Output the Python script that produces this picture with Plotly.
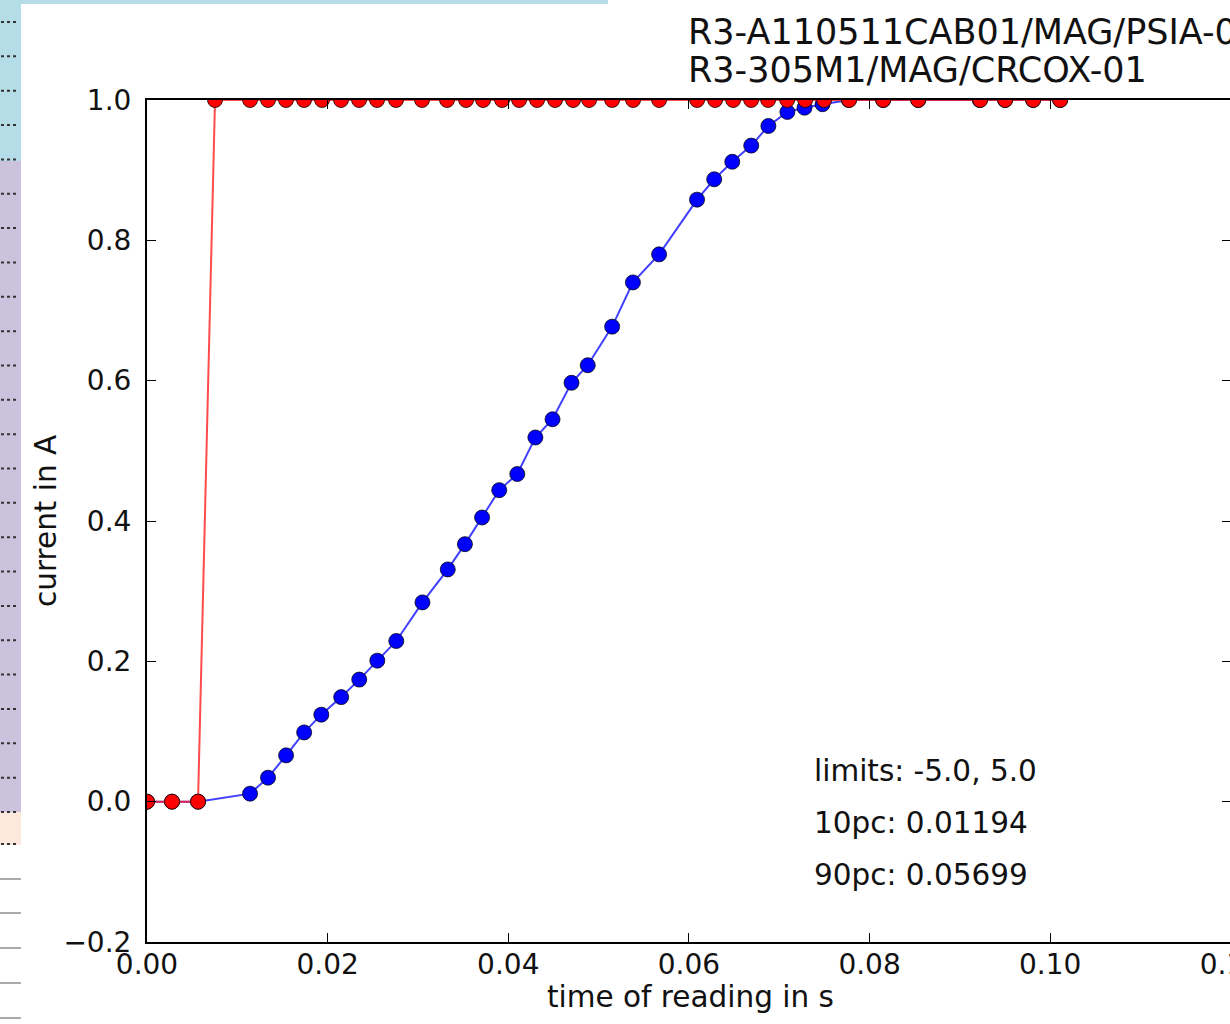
import plotly.graph_objects as go

# ---------------- data ----------------
time_red = [0.0, 0.00277, 0.00565, 0.00753, 0.01141, 0.0134, 0.01539, 0.01739, 0.01938,
            0.02148, 0.02348, 0.02547, 0.02757, 0.03045, 0.03322, 0.03533, 0.03721,
            0.03931, 0.0412, 0.04319, 0.04518, 0.04718, 0.04895, 0.0515, 0.05382,
            0.0567, 0.06091, 0.0629, 0.0649, 0.06689, 0.06877, 0.07088, 0.07287,
            0.07497, 0.07774, 0.08151, 0.08538, 0.09225, 0.09502, 0.09812, 0.10111]
current_red = [0.0, 0.0, 0.0] + [1.0] * 38

time_blue = [0.0, 0.00277, 0.00565, 0.01141, 0.0134, 0.0154, 0.0174, 0.0193, 0.0215,
             0.0235, 0.0255, 0.0276, 0.0305, 0.0333, 0.0352, 0.0371, 0.0390, 0.0410,
             0.0430, 0.0449, 0.0470, 0.0488, 0.0515, 0.0538, 0.0567, 0.0609, 0.0628,
             0.0648, 0.0669, 0.0688, 0.0709, 0.0728, 0.0748, 0.0777, 0.0815, 0.0854,
             0.0922, 0.0950, 0.0981, 0.1011]
current_blue = [0.0, 0.0, 0.0, 0.0114, 0.0342, 0.066, 0.0987, 0.124, 0.149, 0.174,
                0.201, 0.229, 0.284, 0.331, 0.367, 0.405, 0.444, 0.467, 0.519, 0.545,
                0.597, 0.622, 0.677, 0.740, 0.780, 0.858, 0.887, 0.912, 0.935, 0.963,
                0.983, 0.989, 0.994, 1.0, 1.0, 1.0, 1.0, 1.0, 1.0, 1.0]

title_lines = ["R3-A110511CAB01/MAG/PSIA-01", "R3-305M1/MAG/CRCOX-01"]
info_lines = ["limits: -5.0, 5.0", "10pc: 0.01194", "90pc: 0.05699"]
x_ticks = [0.0, 0.02, 0.04, 0.06, 0.08, 0.10, 0.12]
y_ticks = [-0.2, 0.0, 0.2, 0.4, 0.6, 0.8, 1.0]

# ---------------- layout geometry ----------------
# the figure is a bit wider than the 1230 px window: the right frame of the
# original axes lies just outside the visible area
W, H = 1262, 1024
L, R, T, B = 147, 31, 100, 82
PW, PH = W - L - R, H - T - B
FONT = "DejaVu Sans"
TXT = "#111111"


def px(xp):
    return (xp - L) / PW


def py(yp):
    return (H - B - yp) / PH


fig = go.Figure()

fig.add_trace(go.Scatter(
    x=time_blue, y=current_blue, mode="lines+markers",
    line=dict(color="rgba(30,30,255,0.85)", width=2),
    marker=dict(color="#0000ff", size=15, line=dict(color="rgba(0,0,0,0.75)", width=1)),
    showlegend=False, hoverinfo="skip"))

fig.add_trace(go.Scatter(
    x=time_red, y=current_red, mode="lines+markers",
    line=dict(color="rgba(255,30,30,0.8)", width=2),
    marker=dict(color="#ff0000", size=15, line=dict(color="rgba(0,0,0,0.75)", width=1)),
    showlegend=False, hoverinfo="skip"))

shapes = []
# left decorative strip of the surrounding page
shapes.append(dict(type="rect", xref="paper", yref="paper", x0=px(0), x1=px(21),
                   y0=py(0), y1=py(161), fillcolor="#b5dde7", line_width=0, layer="below"))
shapes.append(dict(type="rect", xref="paper", yref="paper", x0=px(0), x1=px(608),
                   y0=py(0), y1=py(4), fillcolor="#b5dde7", line_width=0, layer="below"))
shapes.append(dict(type="rect", xref="paper", yref="paper", x0=px(0), x1=px(21),
                   y0=py(161), y1=py(812), fillcolor="#cbc3de", line_width=0, layer="below"))
shapes.append(dict(type="rect", xref="paper", yref="paper", x0=px(0), x1=px(21),
                   y0=py(812), y1=py(845), fillcolor="#fde9dc", line_width=0, layer="below"))
row_h = (812 - 22) / 23.0
for i in range(25):
    yy = 22 + i * row_h if i < 24 else 844
    shapes.append(dict(type="line", xref="paper", yref="paper", x0=px(1), x1=px(19),
                       y0=py(yy), y1=py(yy), line=dict(color="#333333", width=2, dash="dot")))
for yy in [879, 913, 948, 983, 1018]:
    shapes.append(dict(type="line", xref="paper", yref="paper", x0=px(0), x1=px(21),
                       y0=py(yy), y1=py(yy), line=dict(color="#aaaaaa", width=2)))

annotations = []
for i, t in enumerate(title_lines):
    annotations.append(dict(text=t, xref="paper", yref="paper", x=px(686), y=py(32 + 38 * i),
                            xanchor="left", yanchor="middle", showarrow=False,
                            font=dict(family=FONT, size=35, color=TXT)))
for i, t in enumerate(info_lines):
    annotations.append(dict(text=t, xref="paper", yref="paper", x=px(812), y=py(771 + 52 * i),
                            xanchor="left", yanchor="middle", showarrow=False,
                            font=dict(family=FONT, size=29.5, color=TXT)))
annotations.append(dict(text="time of reading in s", xref="paper", yref="paper",
                        x=px(690), y=py(997), xanchor="center", yanchor="middle",
                        showarrow=False, font=dict(family=FONT, size=29.5, color=TXT)))
annotations.append(dict(text="current in A", xref="paper", yref="paper",
                        x=px(46), y=py(521), xanchor="center", yanchor="middle",
                        textangle=-90, showarrow=False,
                        font=dict(family=FONT, size=29.5, color=TXT)))

fig.update_layout(
    width=W, height=H,
    margin=dict(l=L, r=R, t=T, b=B, pad=0, autoexpand=False),
    paper_bgcolor="white", plot_bgcolor="white",
    shapes=shapes, annotations=annotations,
    font=dict(family=FONT, size=28, color=TXT),
    xaxis=dict(range=[0, 0.12002], tickvals=x_ticks, tickformat=".2f", automargin=False,
               showgrid=False, zeroline=False, showline=True, linecolor="black", linewidth=2,
               mirror="ticks", ticks="inside", ticklen=9, tickwidth=1, tickcolor="black",
               ticklabelstandoff=-4,
               tickfont=dict(family=FONT, size=28, color=TXT)),
    yaxis=dict(range=[-0.2, 1.0], tickvals=y_ticks, tickformat=".1f", automargin=False,
               showgrid=False, zeroline=False, showline=True, linecolor="black", linewidth=2,
               mirror="ticks", ticks="inside", ticklen=9, tickwidth=1, tickcolor="black",
               ticklabelstandoff=8,
               tickfont=dict(family=FONT, size=28, color=TXT)),
)

fig.write_html(
    "out.html",
    config={"displayModeBar": False, "staticPlot": True},
    post_script="document.body.style.margin='0px';document.body.style.overflow='hidden';"
                "document.documentElement.style.overflow='hidden';",
)
